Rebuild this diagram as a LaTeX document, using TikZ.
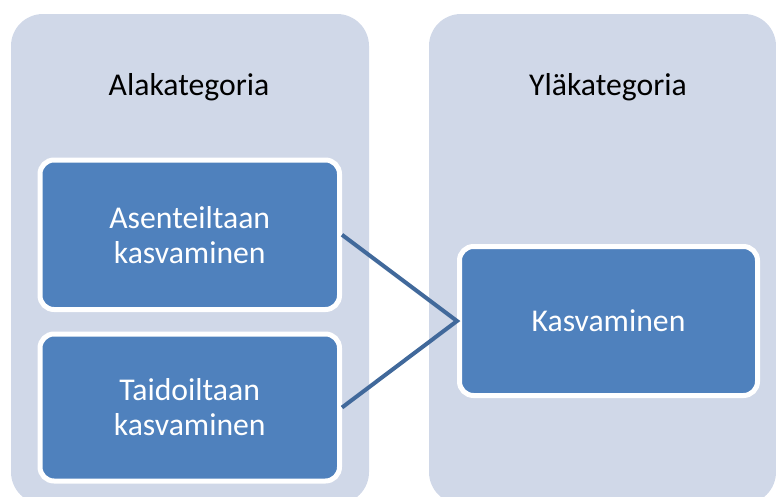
\documentclass[tikz,border=0pt]{standalone}
\usepackage{fontspec}
\setmainfont{Carlito}
\definecolor{panelfill}{HTML}{D0D8E8}
\definecolor{boxfill}{HTML}{4F81BD}
\definecolor{linkcol}{HTML}{41699B}
\begin{document}
\begin{tikzpicture}[x=1pt,y=-1pt,
  panel/.style={fill=panelfill,draw=none,rounded corners=32pt,inner sep=0pt},
  title/.style={font=\fontsize{31.7}{35}\selectfont,text=black,inner sep=0pt},
  catbox/.style={fill=boxfill,draw=white,line width=5pt,rounded corners=14pt,
    text=white,align=center,inner sep=0pt,
    font=\fontsize{31.7}{35}\selectfont},
  link/.style={draw=linkcol,line width=4pt}]
\useasboundingbox (0,0) rectangle (776,496);
% background columns, running past the lower edge
\begin{scope}
\clip (0,0) rectangle (776,496);
\node[panel,minimum width=358pt,minimum height=490pt] (left) at (190,259) {};
\node[panel,minimum width=347pt,minimum height=490pt] (right) at (602.5,259) {};
\end{scope}
% column headings
\node[title] (lt) at (189,87) {Alakategoria};
\node[title] (rt) at (608,87) {Yläkategoria};
% category boxes
\node[catbox,minimum width=299.5pt,minimum height=149.5pt] (a) at (189.75,234.75) {Asenteiltaan\\kasvaminen};
\node[catbox,minimum width=299.5pt,minimum height=147pt] (b) at (189.75,407.5) {Taidoiltaan\\kasvaminen};
\node[catbox,minimum width=298pt,minimum height=149pt] (c) at (608.5,321) {Kasvaminen};
% connectors
\draw[link] (a.east) -- (c.west) -- (b.east);
\end{tikzpicture}
\end{document}
